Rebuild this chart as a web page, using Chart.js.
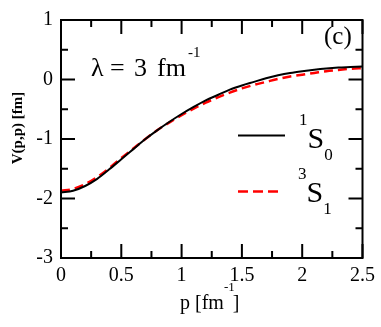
<!DOCTYPE html>
<html>
<head>
<meta charset="utf-8">
<script src="https://cdn.jsdelivr.net/npm/chart.js@4"></script>
<style>
    html, body { margin: 0; padding: 0; background: #fff; }
    #wrap { width: 381px; height: 327px; }
</style>
</head>
<body>
<div id="wrap"><canvas id="chart" width="381" height="327"></canvas></div>
<script>
// momentum grid (fm^-1)
const pValues = [0, 0.1, 0.2, 0.3, 0.4, 0.5, 0.6, 0.7, 0.8, 0.9, 1.0, 1.1, 1.2, 1.3, 1.4, 1.5, 1.6, 1.7, 1.8, 1.9, 2.0, 2.1, 2.2, 2.3, 2.4, 2.5];
// V(p,p) [fm], 1S0 channel
const v1S0 = [-1.90, -1.87, -1.79, -1.67, -1.51, -1.34, -1.17, -1.00, -0.85, -0.71, -0.58, -0.46, -0.35, -0.26, -0.17, -0.10, -0.04, 0.02, 0.07, 0.11, 0.14, 0.165, 0.185, 0.20, 0.21, 0.22];
// V(p,p) [fm], 3S1 channel
const v3S1 = [-1.87, -1.84, -1.76, -1.64, -1.49, -1.32, -1.16, -1.00, -0.85, -0.72, -0.60, -0.49, -0.39, -0.30, -0.22, -0.15, -0.09, -0.04, 0.01, 0.05, 0.08, 0.11, 0.14, 0.16, 0.18, 0.19];
const xTicks = [0, 0.5, 1, 1.5, 2, 2.5];
const yTicks = [-3, -2, -1, 0, 1];

const SERIF = '"Liberation Serif", "Times New Roman", serif';

const toPoints = (ys) => pValues.map((p, i) => ({ x: p, y: ys[i] }));

// inward ticks on all four sides, closing frame, and the text annotations
const framePlugin = {
    id: 'frame',
    afterDatasetsDraw(chart) {
        const { ctx, chartArea: a, scales } = chart;
        const xs = scales.x, ys = scales.y;
        ctx.save();
        ctx.strokeStyle = '#000';
        ctx.lineWidth = 2;
        ctx.strokeRect(a.left, a.top, a.right - a.left, a.bottom - a.top);

        ctx.beginPath();
        for (let v = 0; v <= 2.5001; v += 0.25) {
            const px = xs.getPixelForValue(v);
            const len = Math.abs(v * 2 - Math.round(v * 2)) < 1e-6 ? 14 : 7;
            ctx.moveTo(px, a.bottom); ctx.lineTo(px, a.bottom - len);
            ctx.moveTo(px, a.top); ctx.lineTo(px, a.top + len);
        }
        for (let v = -3; v <= 1.0001; v += 0.5) {
            const py = ys.getPixelForValue(v);
            const len = Math.abs(v - Math.round(v)) < 1e-6 ? 14 : 7;
            ctx.moveTo(a.left, py); ctx.lineTo(a.left + len, py);
            ctx.moveTo(a.right, py); ctx.lineTo(a.right - len, py);
        }
        ctx.stroke();

        ctx.fillStyle = '#000';
        ctx.textBaseline = 'alphabetic';
        ctx.textAlign = 'left';

        // lambda annotation
        ctx.font = '26px ' + SERIF;
        ctx.fillText('\u03bb', 91, 76);
        ctx.fillText('=', 110, 76);
        ctx.fillText('3', 134, 76);
        ctx.fillText('fm', 157, 76);
        const fw = ctx.measureText('fm').width;
        ctx.font = '15px ' + SERIF;
        ctx.fillText('-1', 157 + fw + 2, 57);

        // panel label
        ctx.font = '25px ' + SERIF;
        ctx.fillText('(c)', 324, 44);

        // legend
        ctx.lineWidth = 2;
        ctx.beginPath();
        ctx.moveTo(238, 135.5); ctx.lineTo(285, 135.5);
        ctx.stroke();
        ctx.strokeStyle = '#ff0000';
        ctx.lineWidth = 2.5;
        ctx.setLineDash([10, 5]);
        ctx.beginPath();
        ctx.moveTo(238, 191.5); ctx.lineTo(281, 191.5);
        ctx.stroke();
        ctx.setLineDash([]);

        const drawTerm = (sup, sub, x, base) => {
            ctx.font = '17px ' + SERIF;
            ctx.fillText(sup, x, base - 23);
            const sw = ctx.measureText(sup).width;
            ctx.font = '30px ' + SERIF;
            ctx.fillText('S', x + sw, base);
            const Sw = ctx.measureText('S').width;
            ctx.font = '17px ' + SERIF;
            ctx.fillText(sub, x + sw + Sw, base + 12);
        };
        drawTerm('1', '0', 299, 148);
        drawTerm('3', '1', 298, 202);

        // x axis title
        ctx.font = '20px ' + SERIF;
        const xt = 'p [fm';
        ctx.fillText(xt, 180, 309);
        const xw = ctx.measureText(xt).width;
        ctx.font = '13px ' + SERIF;
        ctx.fillText('-1', 180 + xw, 291);
        const mw = ctx.measureText('-1').width;
        ctx.font = '20px ' + SERIF;
        ctx.fillText(']', 180 + xw + mw - 2, 309);

        // y axis title
        ctx.translate(22, 128);
        ctx.rotate(-Math.PI / 2);
        ctx.textAlign = 'center';
        ctx.font = 'bold 15px ' + SERIF;
        ctx.fillText('V(p,p) [fm]', 0, 0);
        ctx.restore();
    }
};

new Chart(document.getElementById('chart'), {
    type: 'scatter',
    data: {
        datasets: [
            {
                label: '1S0',
                data: toPoints(v1S0),
                showLine: true,
                borderColor: '#000',
                borderWidth: 2,
                pointRadius: 0,
                cubicInterpolationMode: 'monotone'
            },
            {
                label: '3S1',
                data: toPoints(v3S1),
                showLine: true,
                borderColor: '#ff0000',
                borderWidth: 2.5,
                borderDash: [9, 5],
                pointRadius: 0,
                cubicInterpolationMode: 'monotone'
            }
        ]
    },
    options: {
        responsive: false,
        animation: false,
        layout: { padding: { top: 14, right: 16, left: 0, bottom: 0 } },
        plugins: {
            legend: { display: false },
            tooltip: { enabled: false }
        },
        scales: {
            x: {
                type: 'linear',
                min: 0,
                max: 2.5,
                afterFit: (s) => { s.height = 69; },
                afterBuildTicks: (s) => { s.ticks = xTicks.map(v => ({ value: v })); },
                grid: { display: false, drawTicks: false },
                border: { display: true, color: '#000', width: 2 },
                ticks: {
                    color: '#000',
                    padding: 6,
                    maxRotation: 0,
                    font: { family: SERIF, size: 20 },
                    callback: (v) => String(v)
                }
            },
            y: {
                type: 'linear',
                min: -3,
                max: 1,
                afterFit: (s) => { s.width = 61; },
                afterBuildTicks: (s) => { s.ticks = yTicks.map(v => ({ value: v })); },
                grid: { display: false, drawTicks: false },
                border: { display: true, color: '#000', width: 2 },
                ticks: {
                    color: '#000',
                    padding: 8,
                    font: { family: SERIF, size: 20 },
                    callback: (v) => String(v)
                }
            }
        }
    },
    plugins: [framePlugin]
});
</script>
</body>
</html>
